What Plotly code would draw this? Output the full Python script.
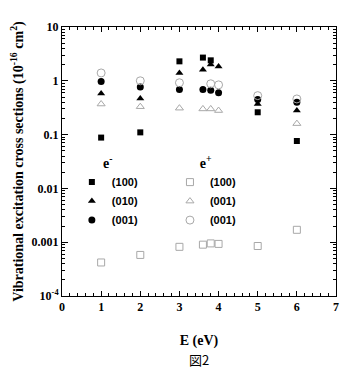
import plotly.graph_objects as go

# e- data
em_100_E = [1, 2, 3, 3.6, 3.8, 5, 6]
em_100_v = [0.088, 0.11, 2.3, 2.7, 2.4, 0.26, 0.076]
em_010_E = [1, 2, 3, 3.6, 3.8, 4, 5, 6]
em_010_v = [0.58, 0.47, 1.4, 1.6, 2.0, 1.85, 0.37, 0.28]
em_001_E = [1, 2, 3, 3.6, 3.8, 4, 5, 6]
em_001_v = [0.97, 0.77, 0.69, 0.69, 0.67, 0.6, 0.45, 0.4]

# e+ data
ep_100_E = [1, 2, 3, 3.6, 3.8, 4, 5, 6]
ep_100_v = [0.00042, 0.00058, 0.00082, 0.00090, 0.00095, 0.00093, 0.00085, 0.0017]
ep_010_E = [1, 2, 3, 3.6, 3.8, 4, 6]
ep_010_v = [0.37, 0.33, 0.31, 0.30, 0.30, 0.28, 0.16]
ep_001_E = [1, 2, 3, 3.8, 4, 5, 6]
ep_001_v = [1.4, 1.0, 0.92, 0.88, 0.84, 0.53, 0.46]

legend_names_em = ["(100)", "(010)", "(001)"]
legend_names_ep = ["(100)", "(001)", "(001)"]

y_tickvals = [1e-4, 1e-3, 1e-2, 1e-1, 1, 10]
y_ticktext = ["10<sup>-4</sup>", "0.001", "0.01", "0.1", "1", "10"]

serif = "Liberation Serif, Times New Roman, serif"
sans = "Liberation Sans, Arial, sans-serif"
gray = "#a8a8a8"

fig = go.Figure()
fig.add_trace(go.Scatter(x=em_100_E, y=em_100_v, mode="markers", name=legend_names_em[0],
                         marker=dict(symbol="square", size=6, color="black"), legend="legend"))
fig.add_trace(go.Scatter(x=em_010_E, y=em_010_v, mode="markers", name=legend_names_em[1],
                         marker=dict(symbol="triangle-up", size=7, color="black"), legend="legend"))
fig.add_trace(go.Scatter(x=em_001_E, y=em_001_v, mode="markers", name=legend_names_em[2],
                         marker=dict(symbol="circle", size=7, color="black"), legend="legend"))
fig.add_trace(go.Scatter(x=ep_100_E, y=ep_100_v, mode="markers", name=legend_names_ep[0],
                         marker=dict(symbol="square-open", size=7, color=gray, line=dict(width=1)), legend="legend2"))
fig.add_trace(go.Scatter(x=ep_010_E, y=ep_010_v, mode="markers", name=legend_names_ep[1],
                         marker=dict(symbol="triangle-up-open", size=7, color=gray, line=dict(width=1)), legend="legend2"))
fig.add_trace(go.Scatter(x=ep_001_E, y=ep_001_v, mode="markers", name=legend_names_ep[2],
                         marker=dict(symbol="circle-open", size=8, color=gray, line=dict(width=1)), legend="legend2"))

legend_common = dict(
    bgcolor="rgba(0,0,0,0)", borderwidth=0,
    font=dict(family=sans, size=11, color="black", weight="bold"),
    tracegroupgap=0, yanchor="top", xanchor="left",
    itemwidth=30,
)
fig.update_layout(
    width=352, height=376,
    margin=dict(l=54, r=24, t=19, b=88),
    paper_bgcolor="white", plot_bgcolor="white",
    showlegend=True,
    legend=dict(x=0.036, y=0.545, title=dict(text="e<sup>-</sup>", side="top center",
                font=dict(family=serif, size=14, color="black", weight="bold")), **legend_common),
    legend2=dict(x=0.394, y=0.545, title=dict(text="e<sup>+</sup>", side="top center",
                 font=dict(family=serif, size=14, color="black", weight="bold")), **legend_common),
    xaxis=dict(
        range=[0, 7], dtick=1, tick0=0, showgrid=False, zeroline=False, automargin=False,
        showline=True, linecolor="black", linewidth=1, mirror="allticks",
        ticks="inside", ticklen=5, tickcolor="black",
        minor=dict(ticks="inside", ticklen=3, dtick=0.2, tickcolor="black", showgrid=False),
        tickfont=dict(family=serif, size=12, color="black", weight="bold"),
        title=dict(text="E (eV)", font=dict(family=serif, size=14, color="black", weight="bold"), standoff=21),
    ),
    yaxis=dict(
        type="log", range=[-4, 1], showgrid=False, zeroline=False, automargin=False,
        showline=True, linecolor="black", linewidth=1, mirror="allticks",
        tickvals=y_tickvals, ticktext=y_ticktext,
        ticks="inside", ticklen=6, tickcolor="black",
        minor=dict(ticks="inside", ticklen=3, dtick="D1", tickcolor="black", showgrid=False),
        tickfont=dict(family=serif, size=12, color="black", weight="bold"),
        title=dict(text="Vibrational excitation cross sections (10<sup>-16</sup> cm<sup>2</sup>)",
                   font=dict(family=serif, size=14, color="black", weight="bold"), standoff=5),
    ),
    annotations=[dict(text="図2", x=0.5, y=-0.235, xref="paper", yref="paper", showarrow=False,
                      xanchor="center", yanchor="middle",
                      font=dict(family="Noto Sans CJK JP", size=13, color="black"))],
)

fig.write_html("out.html")
